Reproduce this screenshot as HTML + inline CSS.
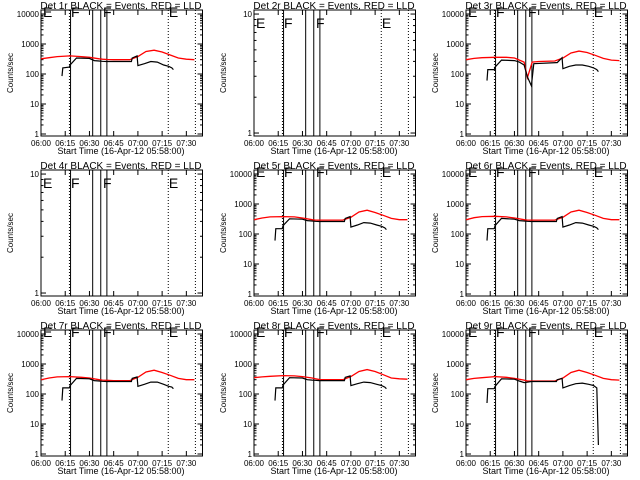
<!DOCTYPE html>
<html><head><meta charset="utf-8"><style>
html,body{margin:0;padding:0;background:#fff;}
svg{display:block;}
text{font-family:"Liberation Sans",sans-serif;fill:#000;}
</style></head><body>
<svg id="chart" width="640" height="480" viewBox="0 0 640 480" xmlns="http://www.w3.org/2000/svg">
<rect x="0" y="0" width="640" height="480" fill="#fff"/>
</svg>
<script>
// Data
const detectors = ["1r","2r","3r","4r","5r","6r","7r","8r","9r"];
const xTickLabels = ["06:00","06:15","06:30","06:45","07:00","07:15","07:30"];
const xTickMinutes = [0,15,30,45,60,75,90];
const redTimes = [0,5,10,18,25,30,36,38,41,45,55,60,65,70,75,80,85,90,95];
const blackTimes = [13,13.5,17.5,18,22,30,33,36,38,40.5,42,56,56.5,59.5,60,64,68,72,76,79,81,82];
const red1 = [320,350,380,400,380,360,320,310,305,300,300,380,560,620,540,430,340,310,300];
const red3 = [300,330,350,360,360,340,250,75,250,260,270,340,500,580,520,420,330,290,280];
const red5 = [300,340,370,380,370,340,300,290,290,290,290,360,540,620,520,420,330,300,300];
const red6 = [300,350,380,390,370,340,300,290,290,290,290,360,540,620,520,420,330,300,300];
const red7 = [300,340,370,380,360,340,300,290,285,280,280,360,540,620,520,420,330,300,300];
const red8 = [350,370,390,410,400,380,340,320,300,300,300,380,560,650,560,440,340,320,310];
const red9 = [300,330,350,380,360,330,290,270,270,270,270,340,520,620,520,420,330,300,290];
const black1 = [85,160,170,200,340,330,280,270,265,260,260,260,340,400,190,220,260,250,200,180,160,140];
const black3 = [60,140,140,170,290,280,250,200,80,40,220,240,240,350,150,180,200,200,180,160,140,120];
const black5 = [60,150,150,190,320,310,280,270,265,260,260,260,330,380,170,200,240,230,200,180,160,140];
const black6 = [60,150,150,190,330,310,280,270,265,260,260,260,330,380,170,200,240,230,200,180,160,140];
const black7 = [60,160,160,190,330,320,280,270,265,260,260,260,330,370,180,210,250,250,210,180,170,150];
const black8 = [60,160,160,200,350,340,300,290,285,280,280,280,360,400,190,220,250,240,210,190,170,150];
const black9 = [50,150,150,180,320,310,270,240,250,260,260,260,300,330,160,190,220,230,210,190,160,2];
const redSeries = [red1,null,red3,null,red5,red6,red7,red8,red9];
const blackSeries = [black1,null,black3,null,black5,black6,black7,black8,black9];
const solidLines = [18.3,32,37,40.8];
const dottedLines = [17.6,78.8,95.6];
const flagLabels = ["E","F","F","E"];
const flagTimes = [1.2,18.6,38.4,79.2];

const NS="http://www.w3.org/2000/svg";
const svg=document.getElementById('chart');
function mk(tag,attrs,parent){const e=document.createElementNS(NS,tag);for(const k in attrs)e.setAttribute(k,attrs[k]);(parent||svg).appendChild(e);return e;}

detectors.forEach((det,i)=>{
  const col=i%3,row=Math.floor(i/3);
  const ox=[0,213,425][col], oy=row*160;
  const L=ox+41,R=ox+202.5,T=oy+10,B=oy+136;
  const hasData=redSeries[i]!==null;
  const lmin=hasData?-0.067:-0.025, lmax=hasData?4.133:1.034;
  const xs=t=>L+(t/100)*(R-L);
  const ys=v=>B-(Math.log10(v)-lmin)/(lmax-lmin)*(B-T);
  const g=mk('g',{});
  
  
  const title=mk('text',{x:ox+121,y:oy+9,'font-size':10,'text-anchor':'middle'},g);
  title.textContent='Det '+det+' BLACK = Events, RED = LLD';
  
  
  // flags
  flagLabels.forEach((f,k)=>{
    const tx=mk('text',{x:xs(flagTimes[k]),y:hasData?oy+17:oy+28,'font-size':14},g);
    tx.textContent=f;
    
    
  });
  // frame
  const fr=mk('rect',{x:L,y:T,width:R-L,height:B-T,fill:'none',stroke:'#000','stroke-width':1},g);
  
  
  // x ticks
  xTickMinutes.forEach((m,k)=>{
    const x=xs(m);
    mk('line',{x1:x,y1:B,x2:x,y2:B-5,stroke:'#000'},g);
    mk('line',{x1:x,y1:T,x2:x,y2:T+5,stroke:'#000'},g);
    const lb=mk('text',{x:x,y:B+10,'font-size':8,'text-anchor':'middle'},g);
    lb.textContent=xTickLabels[k];
    
    
  });
  const xt=mk('text',{x:ox+121,y:oy+154,'font-size':9,'text-anchor':'middle'},g);
  xt.textContent='Start Time (16-Apr-12 05:58:00)';
  
  
  const yt=mk('text',{x:0,y:0,'font-size':8,'text-anchor':'middle',transform:`translate(${ox+13},${oy+73}) rotate(-90)`},g);
  yt.textContent='Counts/sec';
  
  
  // y ticks
  const decs=hasData?[0,1,2,3,4]:[0,1];
  decs.forEach(d=>{
    const y=ys(Math.pow(10,d));
    mk('line',{x1:L,y1:y,x2:L+5,y2:y,stroke:'#000'},g);
    mk('line',{x1:R,y1:y,x2:R-5,y2:y,stroke:'#000'},g);
    const lb=mk('text',{x:L-2,y:y+3,'font-size':8,'text-anchor':'end'},g);
    lb.textContent=String(Math.pow(10,d));
    
    
    if(d<decs[decs.length-1]){
      for(let m=2;m<10;m++){
        const yy=ys(m*Math.pow(10,d));
        mk('line',{x1:L,y1:yy,x2:L+2.5,y2:yy,stroke:'#000'},g);
        mk('line',{x1:R,y1:yy,x2:R-2.5,y2:yy,stroke:'#000'},g);
      }
    }
  });
  // vertical lines
  solidLines.forEach(t=>{
    const l=mk('line',{x1:xs(t),y1:T,x2:xs(t),y2:B,stroke:'#000'},g);
    
    
  });
  dottedLines.forEach(t=>{
    const l=mk('line',{x1:xs(t),y1:T,x2:xs(t),y2:B,stroke:'#000','stroke-dasharray':'1,2'},g);
    
    
  });
  if(hasData){
    const rp=redTimes.map((t,k)=>xs(t).toFixed(1)+','+ys(redSeries[i][k]).toFixed(1)).join(' ');
    const r=mk('polyline',{points:rp,fill:'none',stroke:'#f00','stroke-width':1.3},g);
    
    
    const bp=blackTimes.map((t,k)=>xs(t).toFixed(1)+','+ys(blackSeries[i][k]).toFixed(1)).join(' ');
    const b=mk('polyline',{points:bp,fill:'none',stroke:'#000','stroke-width':1.2},g);
    
    
  }
});
</script>
</body></html>
